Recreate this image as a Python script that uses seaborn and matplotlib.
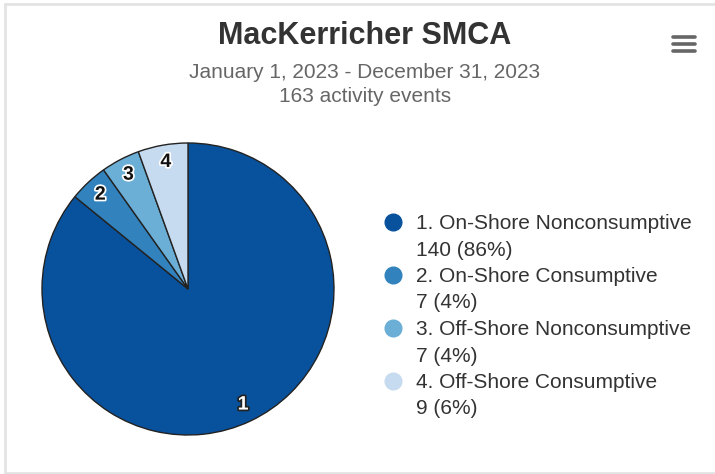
import matplotlib
matplotlib.use("Agg")
import matplotlib.pyplot as plt
import matplotlib.patheffects as pe
from matplotlib.lines import Line2D
import seaborn as sns

categories = ["On-Shore Nonconsumptive", "On-Shore Consumptive",
              "Off-Shore Nonconsumptive", "Off-Shore Consumptive"]
counts = [140, 7, 7, 9]
percents = [86, 4, 4, 6]
colors = ["#08519c", "#3182bd", "#6baed6", "#c6dbef"]

sns.set_style("white")
plt.rcParams["font.family"] = ["Liberation Sans", "DejaVu Sans"]

W, H = 715, 474
fig = plt.figure(figsize=(W / 100, H / 100), dpi=100)
fig.patch.set_facecolor("white")

# frame (left, top, bottom edges)
for xs, ys in [([5, 5], [4, 473]), ([5, 715], [4, 4]), ([5, 715], [473, 473])]:
    fig.add_artist(Line2D([x / W for x in xs], [1 - y / H for y in ys],
                          color="#e3e3e3", lw=2))

# hamburger menu
for y in [37, 44, 51]:
    fig.add_artist(Line2D([673 / W, 695 / W], [1 - y / H] * 2, color="#666666",
                          lw=2.6, solid_capstyle="round"))

fig.text(365 / W, 1 - 36 / H, "MacKerricher SMCA", ha="center", va="center",
         fontsize=22, fontweight="bold", color="#333333")
fig.text(365 / W, 1 - 72 / H, "January 1, 2023 - December 31, 2023",
         ha="center", va="center", fontsize=15, color="#666666")
fig.text(365 / W, 1 - 97 / H, "163 activity events",
         ha="center", va="center", fontsize=15, color="#666666")

# pie
cx, cy, r = 188, 289, 146
ax = fig.add_axes([(cx - r) / W, 1 - (cy + r) / H, 2 * r / W, 2 * r / H])
wedges, texts = ax.pie(counts, colors=colors, startangle=90, counterclock=False,
                       labels=[str(i + 1) for i in range(len(counts))],
                       labeldistance=0.88,
                       wedgeprops=dict(edgecolor="#222222", linewidth=1))
for i, t in enumerate(texts):
    t.set_ha("center")
    t.set_va("center")
    t.set_fontsize(14)
    t.set_fontweight("bold")
    if i == 0:
        t.set_color("white")
        t.set_path_effects([pe.withStroke(linewidth=2.5, foreground="#222222")])
    else:
        t.set_color("#111111")
        t.set_path_effects([pe.withStroke(linewidth=2.5, foreground="white")])
ax.set_xlim(-1, 1)
ax.set_ylim(-1, 1)
ax.set_aspect("equal")
ax.axis("off")

# legend: one row per text line, marker only on first line of each item
handles, labels = [], []
for i, (cat, n, p, c) in enumerate(zip(categories, counts, percents, colors)):
    handles.append(Line2D([], [], marker="o", ls="", color=c, markersize=12))
    labels.append(f"{i + 1}. {cat}")
    handles.append(Line2D([], [], marker="", ls=""))
    labels.append(f"{n} ({p}%)")
leg = fig.legend(handles, labels, loc="upper left",
                 bbox_to_anchor=(383 / W, 1 - 214 / H),
                 frameon=False, fontsize=15, labelspacing=0.36,
                 handlelength=1.0, handletextpad=0.6, borderpad=0,
                 borderaxespad=0)
for t in leg.get_texts():
    t.set_color("#333333")

fig.savefig("out.png", dpi=100)
